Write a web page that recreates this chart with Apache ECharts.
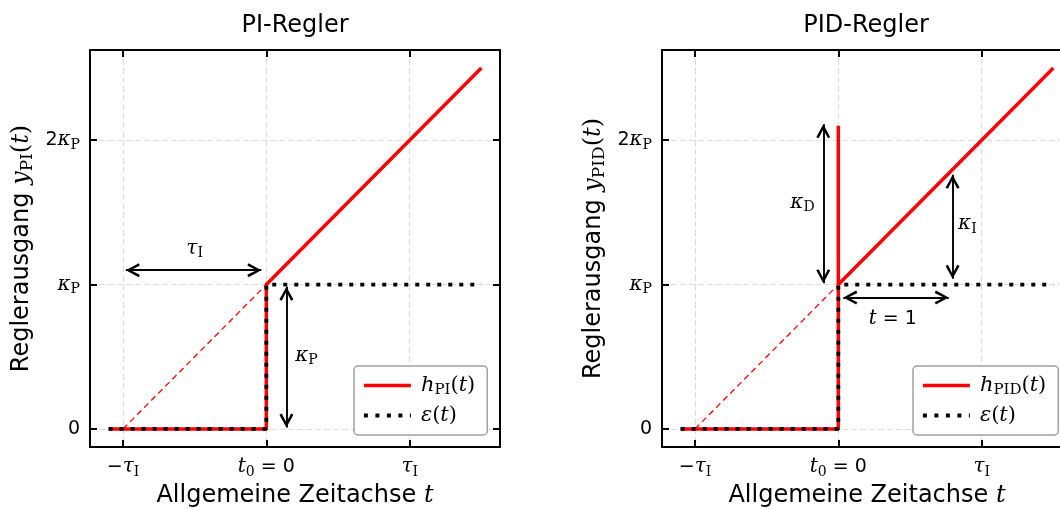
<!DOCTYPE html>
<html>
<head>
<meta charset="utf-8">
<script src="https://cdn.jsdelivr.net/npm/echarts@6/dist/echarts.min.js"></script>
<style>
  html, body { margin: 0; padding: 0; background: #fff; }
  #chart { width: 1060px; height: 509px; }
</style>
</head>
<body>
<div id="chart"></div>
<script>
// ticks and labels (rich text, math bits in serif)
const xTicks = [-1, 0, 1];
const yTicks = [0, 1, 2];
const xTickLabels = ['{n|−}{m|τ}{s|I}', '{m|t}{s|0}{n| = 0}', '{m|τ}{s|I}'];
const yTickLabels = ['{n|0}', '{m|κ}{s|P}', '{n|2}{m|κ}{s|P}'];
const xLim = [-1.23, 1.63];
const yLim = [-0.125, 2.625];

// curves
const piResponse = [[-1.1, 0], [0, 0], [0, 1], [1.5, 2.5]];
const pidResponse = [[-1.1, 0], [0, 0], [0, 2.1], [0, 1], [1.5, 2.5]];
const stepInput = [[-1.1, 0], [0, 0], [0, 1], [1.5, 1]];
const extrapolation = [[-1, 0], [0, 1]];

// annotations (arrow ends as drawn, labels)
const piArrows = [[[-0.98, 1.1], [-0.035, 1.1]], [[0.14, 0.985], [0.14, 0.01]]];
const pidArrows = [[[-0.105, 1.01], [-0.105, 2.11]], [[0.797, 1.04], [0.797, 1.76]], [[0.035, 0.91], [0.77, 0.91]]];
const piNotes = [[-0.5, 1.25, '{m|τ}{s|I}'], [0.28, 0.51, '{m|κ}{s|P}']];
const pidNotes = [[-0.25, 1.57, '{m|κ}{s|D}'], [0.9, 1.42, '{m|κ}{s|I}'], [0.38, 0.76, '{m|t}{n| = 1}']];

const rich = {
  m: { fontFamily: 'DejaVu Serif', fontStyle: 'italic', fontSize: 20, color: '#000' },
  s: { fontFamily: 'DejaVu Serif', fontSize: 14, color: '#000', padding: [10, 0, 0, 0] },
  n: { fontFamily: 'DejaVu Sans', fontSize: 19, color: '#000' },
  a: { fontFamily: 'DejaVu Sans', fontSize: 24, color: '#000' },
  mm: { fontFamily: 'DejaVu Serif', fontStyle: 'italic', fontSize: 24, color: '#000' },
  ss: { fontFamily: 'DejaVu Serif', fontSize: 17, color: '#000', padding: [12, 0, 0, 0] },
  nn: { fontFamily: 'DejaVu Serif', fontSize: 24, color: '#000' },
  lm: { fontFamily: 'DejaVu Serif', fontStyle: 'italic', fontSize: 21, color: '#000' },
  ls: { fontFamily: 'DejaVu Serif', fontSize: 15, color: '#000', padding: [10, 0, 0, 0] },
  ln: { fontFamily: 'DejaVu Serif', fontSize: 21, color: '#000' }
};

// open arrow head, tip at the centre of the symbol box
const chev = 'path://M-6,-12 L-6,-12 Z M18,12 L18,12 Z M0,11 L6,0 L12,11 L10,12 L6,4.2 L2,12 Z';

function xAx(grid, pos, main) {
  return {
    type: 'value', gridIndex: grid, position: pos, min: xLim[0], max: xLim[1],
    axisLine: { show: true, onZero: false, lineStyle: { color: '#000', width: 2 } },
    axisTick: { show: true, inside: true, length: 7, customValues: xTicks, lineStyle: { color: '#000', width: 2 } },
    axisLabel: { show: main, customValues: xTicks, margin: 8,
      formatter: v => xTickLabels[xTicks.indexOf(v)], rich: rich },
    splitLine: { show: main, customValues: xTicks, lineStyle: { color: '#dcdcdc', type: [6, 3], width: 1.2 } },
    name: main ? '{a|Allgemeine Zeitachse }{mm|t}' : '',
    nameLocation: 'middle', nameGap: 32,
    nameTextStyle: { rich: rich }
  };
}

function yAx(grid, pos, main, label) {
  return {
    type: 'value', gridIndex: grid, position: pos, min: yLim[0], max: yLim[1],
    axisLine: { show: true, onZero: false, lineStyle: { color: '#000', width: 2 } },
    axisTick: { show: true, inside: true, length: 7, customValues: yTicks, lineStyle: { color: '#000', width: 2 } },
    axisLabel: { show: main, customValues: yTicks, margin: 10,
      formatter: v => yTickLabels[yTicks.indexOf(v)], rich: rich },
    splitLine: { show: main, customValues: yTicks, lineStyle: { color: '#dcdcdc', type: [6, 3], width: 1.2 } },
    name: main ? label : '',
    nameLocation: 'middle', nameGap: 54,
    nameTextStyle: { rich: rich }
  };
}

function curves(ax, key, resp, arrows, notes) {
  return [
    { type: 'line', xAxisIndex: ax, yAxisIndex: ax, data: extrapolation, symbol: 'none', z: 2,
      lineStyle: { color: '#ff0000', width: 1.3, type: [6, 4] } },
    { name: 'h' + key, type: 'line', xAxisIndex: ax, yAxisIndex: ax, data: resp, symbol: 'none', z: 3,
      itemStyle: { color: '#ff0000' },
      lineStyle: { color: '#ff0000', width: 3.5 } },
    { name: 'eps' + key, type: 'line', xAxisIndex: ax, yAxisIndex: ax, data: stepInput, symbol: 'none', z: 4,
      itemStyle: { color: '#000' },
      lineStyle: { color: '#000', width: 3.8, type: [4, 7] },
      markLine: {
        silent: true, symbol: [chev, chev], symbolSize: 28,
        label: { show: false },
        lineStyle: { color: '#000', width: 1.9, type: 'solid' },
        data: arrows.map(a => [{ coord: a[0] }, { coord: a[1] }])
      },
      markPoint: {
        silent: true, symbol: 'circle', symbolSize: 0,
        label: { show: true, position: 'inside', formatter: p => p.name, rich: rich },
        data: notes.map(n => ({ coord: [n[0], n[1]], name: n[2] }))
      }
    }
  ];
}

const legendNames = {
  hPI: '{lm|h}{ls|PI}{ln|(}{lm|t}{ln|)}',
  hPID: '{lm|h}{ls|PID}{ln|(}{lm|t}{ln|)}',
  epsPI: '{lm|ε}{ln|(}{lm|t}{ln|)}',
  epsPID: '{lm|ε}{ln|(}{lm|t}{ln|)}'
};

function legend(left, key) {
  return {
    data: [
      { name: 'h' + key, lineStyle: { color: '#ff0000', width: 3.5, type: 'solid' } },
      { name: 'eps' + key, lineStyle: { color: '#000', width: 3.8, type: [4, 7.5] } }
    ],
    left: left, top: 366, orient: 'vertical',
    itemWidth: 47, itemHeight: 14, itemGap: 7,
    padding: [9, 12, 9, 8],
    borderColor: '#a0a0a0', borderWidth: 1.5, borderRadius: 4,
    backgroundColor: 'rgba(255,255,255,0.85)',
    selectedMode: false,
    itemStyle: { opacity: 0 },
    formatter: n => legendNames[n],
    textStyle: { rich: rich, padding: [0, 0, 0, 5] }
  };
}

const chart = echarts.init(document.getElementById('chart'), null, { renderer: 'canvas' });
chart.setOption({
  animation: false,
  backgroundColor: '#fff',
  title: [
    { text: 'PI-Regler', left: 295, top: 14, textAlign: 'center', padding: 0,
      textStyle: { fontFamily: 'DejaVu Sans', fontSize: 24, fontWeight: 'normal', color: '#000' } },
    { text: 'PID-Regler', left: 866, top: 14, textAlign: 'center', padding: 0,
      textStyle: { fontFamily: 'DejaVu Sans', fontSize: 24, fontWeight: 'normal', color: '#000' } }
  ],
  grid: [
    { left: 90, top: 50, width: 410, height: 397, containLabel: false, outerBoundsMode: 'none' },
    { left: 662, top: 50, width: 410, height: 397, containLabel: false, outerBoundsMode: 'none' }
  ],
  xAxis: [xAx(0, 'bottom', true), xAx(0, 'top', false), xAx(1, 'bottom', true), xAx(1, 'top', false)],
  yAxis: [
    yAx(0, 'left', true, '{a|Reglerausgang }{mm|y}{ss|PI}{nn|(}{mm|t}{nn|)}'),
    yAx(0, 'right', false, ''),
    yAx(1, 'left', true, '{a|Reglerausgang }{mm|y}{ss|PID}{nn|(}{mm|t}{nn|)}'),
    yAx(1, 'right', false, '')
  ],
  legend: [legend(354, 'PI'), legend(913, 'PID')],
  series: [].concat(
    curves(0, 'PI', piResponse, piArrows, piNotes),
    curves(2, 'PID', pidResponse, pidArrows, pidNotes)
  )
});
</script>
</body>
</html>
